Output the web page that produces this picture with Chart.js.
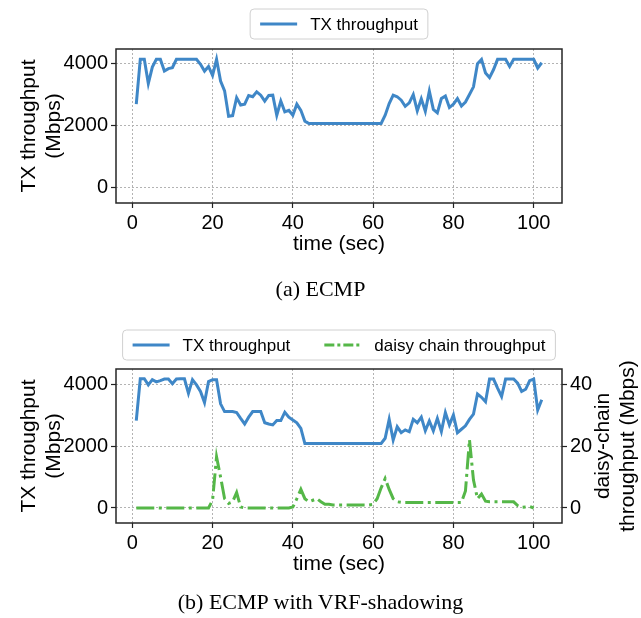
<!DOCTYPE html>
<html>
<head>
<meta charset="utf-8">
<script src="https://cdn.jsdelivr.net/npm/chart.js@4.4.1/dist/chart.umd.min.js"></script>
<style>
  body { margin: 0; background: #fff; }
  .wrap { position: relative; width: 641px; height: 618px; }
  canvas { position: absolute; left: 0; }
  #chartA { top: 0; }
  #chartB { top: 309px; }
  .caption { position: absolute; left: 0; width: 641px; text-align: center;
    font-family: "Liberation Serif", "DejaVu Serif", serif; font-size: 22px; color: #000; }
</style>
</head>
<body>
<div class="wrap">
  <canvas id="chartA" width="641" height="309"></canvas>
  <canvas id="chartB" width="641" height="309"></canvas>
  <div class="caption" style="top:276px">(a) ECMP</div>
  <div class="caption" style="top:589px">(b) ECMP with VRF-shadowing</div>
</div>
<script>
// data (time in sec, throughput in Mbps)

const time = [1, 2, 3, 4, 5, 6, 7, 8, 9, 10, 11, 12, 13, 14, 15, 16, 17, 18, 19, 20,
    21, 22, 23, 24, 25, 26, 27, 28, 29, 30, 31, 32, 33, 34, 35, 36, 37, 38, 39, 40,
    41, 42, 43, 44, 45, 46, 47, 48, 49, 50, 51, 52, 53, 54, 55, 56, 57, 58, 59, 60,
    61, 62, 63, 64, 65, 66, 67, 68, 69, 70, 71, 72, 73, 74, 75, 76, 77, 78, 79, 80,
    81, 82, 83, 84, 85, 86, 87, 88, 89, 90, 91, 92, 93, 94, 95, 96, 97, 98, 99, 100,
    101, 102]

// (a) ECMP
const ecmpTx = [2700, 4150, 4150, 3365, 3900, 4150, 4150, 3770, 3850, 3880,
    4150, 4150, 4150, 4150, 4150, 4150, 3990, 3770, 3920, 3630,
    4150, 3450, 3130, 2310, 2330, 2910, 2670, 2700, 2980, 2940,
    3100, 2990, 2800, 2980, 2990, 2340, 2800, 2450, 2500, 2340,
    2700, 2500, 2150, 2075, 2075, 2075, 2075, 2075, 2075, 2075,
    2075, 2075, 2075, 2075, 2075, 2075, 2075, 2075, 2075, 2075,
    2075, 2075, 2340, 2720, 2990, 2940, 2830, 2630, 2740, 3010,
    2480, 2870, 2470, 3120, 2530, 2420, 2880, 2960, 2590, 2700,
    2880, 2640, 2770, 3010, 3260, 4010, 4150, 3710, 3560, 3820,
    4150, 4150, 4150, 3920, 4150, 4150, 4150, 4150, 4150, 4150,
    3870, 4040]

// (b) ECMP with VRF-shadowing
const vrfTx = [2820, 4170, 4170, 3970, 4140, 4070, 4110, 4160, 4160, 4010,
    4160, 4170, 4170, 3700, 4140, 3970, 3760, 3400, 4080, 4140,
    4140, 3360, 3110, 3110, 3110, 3080, 2890, 2710, 2930, 3110,
    3110, 3110, 2750, 2710, 2680, 2820, 2820, 3090, 2930, 2840,
    2750, 2570, 2080, 2080, 2080, 2080, 2080, 2080, 2080, 2080,
    2080, 2080, 2080, 2080, 2080, 2080, 2080, 2080, 2080, 2080,
    2080, 2080, 2250, 2860, 2190, 2620, 2430, 2520, 2460, 2860,
    2750, 2930, 2490, 2810, 2490, 2890, 2470, 3080, 2680, 3000,
    2430, 2540, 2650, 2860, 3030, 3680, 3570, 3430, 4160, 4160,
    3870, 3600, 4160, 4160, 4160, 4030, 3760, 3830, 4110, 4160,
    3160, 3490]

// daisy chain throughput (Mbps), right axis, t = 1..100
const daisy = [0, 0, 0, 0, 0, 0, 0, 0, 0, 0,
    0, 0, 0, 0, 0, 0, 0, 0, 0, 2.5,
    16.5, 10, 3, 1.5, 2, 5, 0.3, 0, 0, 0,
    0, 0, 0, 0, 0, 0, 0, 0, 0, 0.3,
    3, 6, 3, 2, 2.5, 3, 2, 1.2, 1.2, 1,
    1, 1, 1, 1, 1, 1, 1, 1, 1, 1.2,
    3, 6.5, 9.5, 6, 3, 2, 1.8, 1.8, 1.8, 1.8,
    1.8, 1.8, 1.8, 1.8, 1.8, 1.8, 1.8, 1.8, 1.8, 1.8,
    1.8, 1.8, 5.5, 22, 9, 3, 4.5, 2.2, 2, 2,
    2, 2, 2, 2, 2, 0.8, 0.2, 0.3, 0.5, 0]

const xTicks = [0, 20, 40, 60, 80, 100]
const txTicks = [0, 2000, 4000]
const daisyTicks = [0, 20, 40]

const blue = '#3f87c7'
const green = '#55b748'
const sans = '"Liberation Sans", Arial, sans-serif'

function points(ys) {
    return ys.map((y, i) => ({ x: time[i], y: y }))
}

function fixedTicks(list) {
    return function (scale) {
        scale.ticks = list.map(v => ({ value: v }))
    }
}

function axisStyle(extra) {
    return Object.assign({
        grid: { color: '#b3b3b3', lineWidth: 1, drawTicks: true, tickLength: 5,
            tickColor: '#222', tickBorderDash: [], tickWidth: 1.2 },
        border: { display: false, dash: [2, 2] },
        ticks: { font: { family: sans, size: 20 }, color: '#000', padding: 3, maxRotation: 0,
            callback: v => String(v) }
    }, extra)
}

// matplotlib-ish frame, legend and axis labels
const decor = {
    id: 'decor',
    afterDraw(chart) {
        const o = chart.options.plugins.decor
        const c = chart.ctx
        const a = chart.chartArea
        c.save()
        c.strokeStyle = '#262626'
        c.lineWidth = 1.5
        c.strokeRect(a.left, a.top, a.right - a.left, a.bottom - a.top)

        // legend
        c.font = '17px ' + sans
        const pad = 10, lineLen = 37, gap = 13, itemGap = 34
        let w = pad * 2
        o.legend.forEach((it, i) => {
            w += lineLen + gap + c.measureText(it.label).width
            if (i > 0) w += itemGap
        })
        const h = 30
        const bx = (a.left + a.right) / 2 - w / 2
        const by = o.legendTop
        c.beginPath()
        c.roundRect(bx, by, w, h, 4)
        c.fillStyle = 'rgba(255,255,255,0.9)'
        c.fill()
        c.strokeStyle = '#d0d0d0'
        c.lineWidth = 1
        c.stroke()
        let x = bx + pad
        const cy = by + h / 2
        o.legend.forEach((it, i) => {
            if (i > 0) x += itemGap
            c.beginPath()
            c.setLineDash(it.dash || [])
            c.strokeStyle = it.color
            c.lineWidth = 3
            c.moveTo(x, cy)
            c.lineTo(x + lineLen, cy)
            c.stroke()
            c.setLineDash([])
            x += lineLen + gap
            c.fillStyle = '#000'
            c.textBaseline = 'middle'
            c.textAlign = 'left'
            c.fillText(it.label, x, cy + 1)
            x += c.measureText(it.label).width
        })

        // axis titles
        c.fillStyle = '#000'
        c.font = '21px ' + sans
        c.textAlign = 'center'
        c.textBaseline = 'middle'
        c.fillText('time (sec)', (a.left + a.right) / 2, a.bottom + 41)
        const midY = (a.top + a.bottom) / 2
        c.save()
        c.translate(29, midY)
        c.rotate(-Math.PI / 2)
        c.fillText('TX throughput', 0, 0)
        c.fillText('(Mbps)', 0, 25)
        c.restore()
        if (o.rightTitle) {
            c.save()
            c.translate(603, midY)
            c.rotate(-Math.PI / 2)
            c.fillText(o.rightTitle[0], 0, 0)
            c.fillText(o.rightTitle[1], 0, 25)
            c.restore()
        }
        c.restore()
    }
}

const ctxA = document.getElementById('chartA').getContext('2d')
const chartA = new Chart(ctxA, {
    type: 'line',
    data: {
        datasets: [{
            label: 'TX throughput',
            data: points(ecmpTx),
            borderColor: blue,
            borderWidth: 3,
            pointRadius: 0,
            tension: 0,
            yAxisID: 'y'
        }]
    },
    options: {
        responsive: false,
        animation: false,
        layout: { padding: { top: 49, right: 79, left: 0, bottom: 0 } },
        plugins: {
            legend: { display: false },
            tooltip: { enabled: false },
            decor: { legendTop: 9, legend: [{ label: 'TX throughput', color: blue }] }
        },
        scales: {
            x: axisStyle({ type: 'linear', min: -4.05, max: 107.05,
                afterBuildTicks: fixedTicks(xTicks), afterFit: s => { s.height = 106 } }),
            y: axisStyle({ type: 'linear', min: -500, max: 4485,
                afterBuildTicks: fixedTicks(txTicks), afterFit: s => { s.width = 116 } })
        }
    },
    plugins: [decor]
})

const ctxB = document.getElementById('chartB').getContext('2d')
const chartB = new Chart(ctxB, {
    type: 'line',
    data: {
        datasets: [{
            label: 'TX throughput',
            data: points(vrfTx),
            borderColor: blue,
            borderWidth: 3,
            pointRadius: 0,
            tension: 0,
            yAxisID: 'y'
        }, {
            label: 'daisy chain throughput',
            data: points(daisy),
            borderColor: green,
            borderWidth: 3,
            borderDash: [18, 4.5, 3, 4.5],
            pointRadius: 0,
            tension: 0,
            yAxisID: 'y2'
        }]
    },
    options: {
        responsive: false,
        animation: false,
        layout: { padding: { top: 60, right: 0, left: 0, bottom: 0 } },
        plugins: {
            legend: { display: false },
            tooltip: { enabled: false },
            decor: {
                legendTop: 21,
                legend: [
                    { label: 'TX throughput', color: blue },
                    { label: 'daisy chain throughput', color: green, dash: [10, 3, 3, 3] }
                ],
                rightTitle: ['daisy-chain', 'throughput (Mbps)']
            }
        },
        scales: {
            x: axisStyle({ type: 'linear', min: -4.05, max: 107.05,
                afterBuildTicks: fixedTicks(xTicks), afterFit: s => { s.height = 95 } }),
            y: axisStyle({ type: 'linear', position: 'left', min: -484, max: 4484,
                afterBuildTicks: fixedTicks(txTicks), afterFit: s => { s.width = 116 } }),
            y2: axisStyle({ type: 'linear', position: 'right', min: -4.84, max: 44.84,
                grid: { drawOnChartArea: false, drawTicks: true, tickLength: 5, tickColor: '#222', tickWidth: 1.2 },
                afterBuildTicks: fixedTicks(daisyTicks), afterFit: s => { s.width = 79 } })
        }
    },
    plugins: [decor]
})
</script>
</body>
</html>
